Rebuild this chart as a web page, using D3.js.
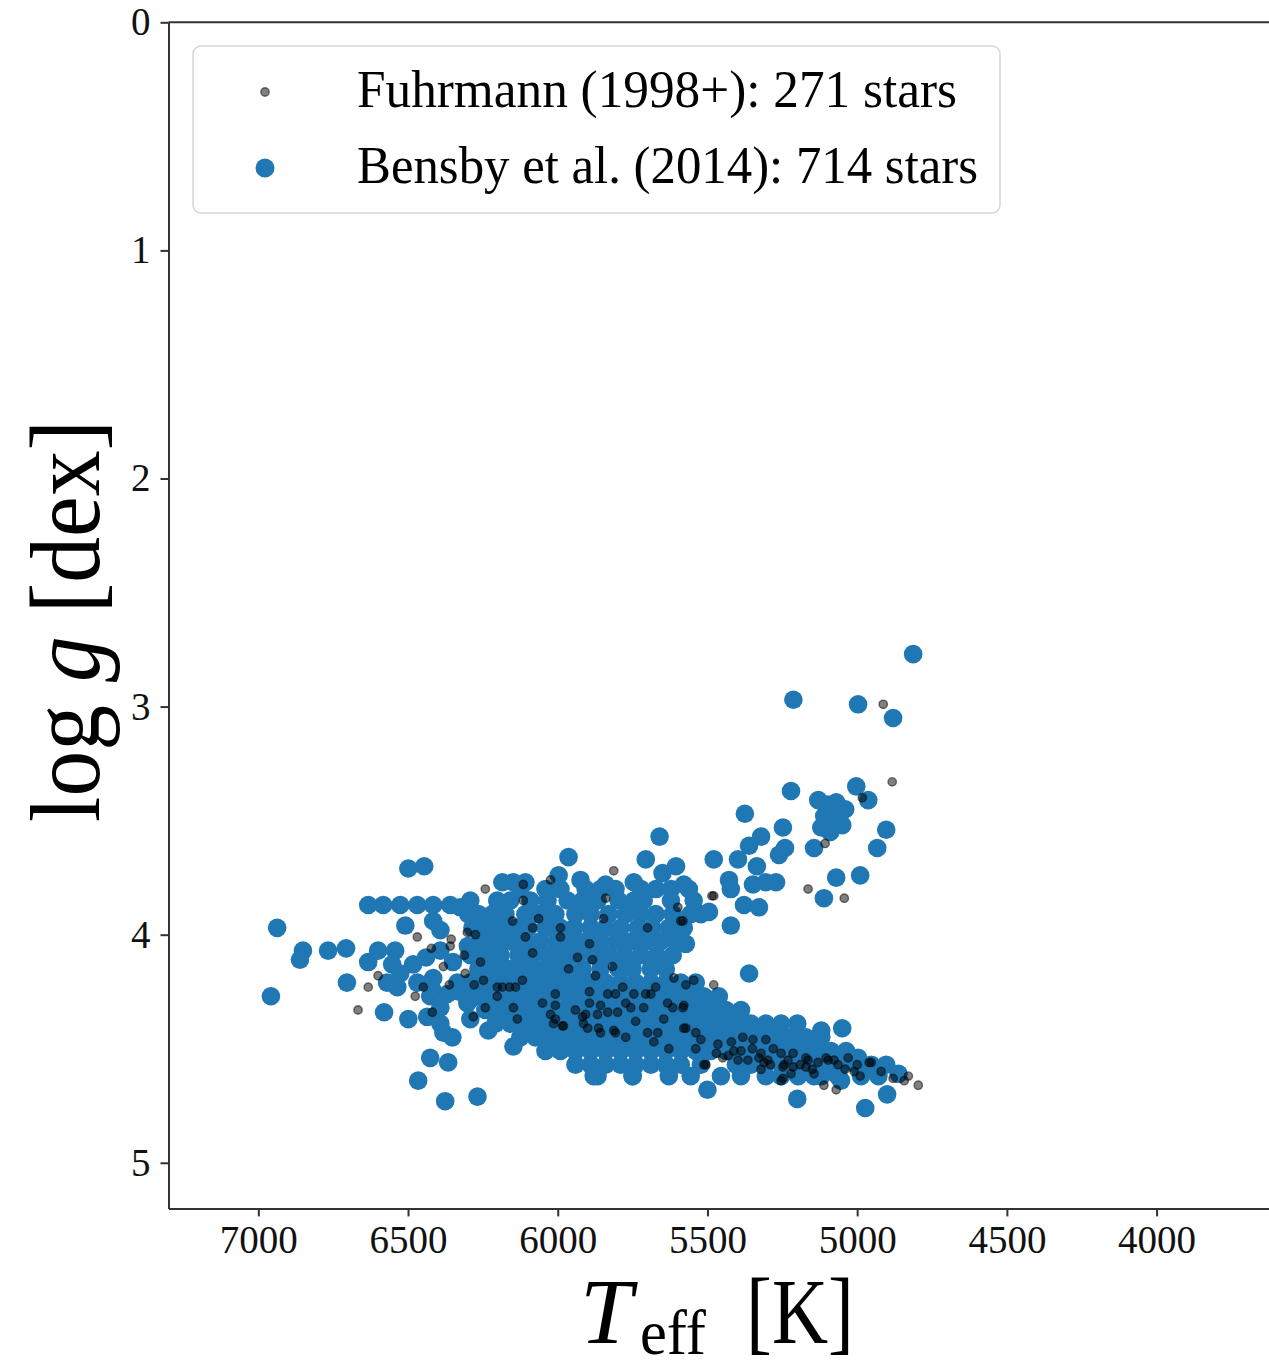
<!DOCTYPE html>
<html>
<head>
<meta charset="utf-8">
<script src="https://cdn.jsdelivr.net/npm/d3@7"></script>
<style>
    body { margin: 0; background: #fff; overflow: hidden; }
    #main-container { width: 1269px; height: 1367px; }
</style>
</head>
<body>
<div id="main-container"></div>
<script>
// Values: [Teff (K), log g (dex)]
const FUHRMANN_STARS = [
    [4913,2.99],[4883,3.33],[4983,3.40],[5107,3.60],[5164,3.80],[5043,3.84],[5479,3.83],[5582,3.94],
    [6667,4.33],[6633,4.23],[6600,4.18],[6469,4.01],[6422,4.06],[6359,4.05],[6356,4.02],[6302,3.99],
    [6275,4.00],[6312,4.09],[6476,4.27],[6449,4.23],[6419,4.34],[6382,4.14],[6362,4.22],[6309,4.17],
    [6279,4.22],[6282,4.36],[6242,4.32],[6242,3.80],[6258,4.12],[6202,4.23],[6202,4.27],[6161,4.23],
    [6141,4.23],[6118,4.20],[6148,4.32],[6135,4.37],[6248,4.20],
    [6115,3.85],[6024,3.76],[6115,3.78],[5813,3.72],[5840,3.84],[5847,3.93],[5700,3.97],[5599,3.88],
    [5589,3.94],[5485,3.83],[6151,3.94],[6084,3.97],[6064,3.93],[6108,4.01],[6084,4.08],[5991,3.97],
    [5991,4.01],[5894,4.04],[5884,4.11],[5874,4.18],[5817,4.14],[5964,4.15],[5612,4.19],[5934,4.10],
    [6185,4.23],[6051,4.30],[6008,4.26],[6008,4.31],[6024,4.35],[6008,4.37],[5981,4.40],[5941,4.33],
    [5894,4.25],[5894,4.30],[5917,4.36],[5900,4.41],[5857,4.31],[5857,4.43],[5833,4.26],[5807,4.26],
    [5800,4.34],[5813,4.42],[5783,4.23],[5773,4.30],[5746,4.26],[5740,4.38],[5756,4.32],[5773,4.45],
    [5706,4.26],[5713,4.32],[5689,4.26],[5700,4.43],[5666,4.43],[5673,4.23],[5633,4.30],[5616,4.32],
    [5646,4.37],[5629,4.50],[5679,4.47],[5582,4.32],[5572,4.41],[5539,4.43],[5522,4.46],[5465,4.48],
    [5512,4.57],[5382,4.45],[5348,4.46],[5305,4.46],[5388,4.51],[5398,4.55],[5365,4.55],[5321,4.52],
    [5298,4.55],[5254,4.52],[5244,4.57],[5214,4.52],[5214,4.58],[5164,4.55],[5131,4.56],[5097,4.55],
    [5064,4.57],[5030,4.54],[5010,4.60],[4960,4.56],[5111,4.66],[5248,4.63],[5070,4.68],[5572,4.22],
    [5546,4.20],[5479,4.22],[5579,4.31],[5579,4.41],[5539,4.50],[5412,4.51],[5449,4.54],[5505,4.57],
    [5328,4.54],[5311,4.56],[5321,4.59],[5231,4.55],[5248,4.58],[5254,4.64],[5221,4.61],[5171,4.54],
    [5171,4.58],[5104,4.54],[5144,4.61],[5077,4.55],[4953,4.56],[4829,4.62],[4796,4.66],[4843,4.64],
    [6014,4.39],[5984,4.40],[5907,4.35],[5914,4.39],[5867,4.35],[5864,4.41],[5833,4.34],[5807,4.43],
    [5470,4.52],[5430,4.53],[5290,4.57],[5190,4.57],[5150,4.59],[5040,4.59],[4990,4.62],[4920,4.60],
    [5350,4.50],[5280,4.50],[5420,4.47],[5000,4.57],[4880,4.63]
];

// Giants, subgiants and isolated Bensby stars
const BENSBY_STARS = [
    [4813,2.77],[5213,2.97],[4997,2.99],[4880,3.05],[5221,3.37],[5003,3.35],[4963,3.41],
    [5130,3.41],[5100,3.43],[5070,3.42],[5040,3.45],[5110,3.48],[5080,3.50],[5050,3.52],[5090,3.55],
    [5120,3.53],[5060,3.47],[5375,3.47],[5248,3.53],[5321,3.57],[5361,3.61],[5241,3.62],[5261,3.65],
    [5144,3.62],[4903,3.54],[4933,3.62],[5479,3.67],[5398,3.67],[5335,3.70],[5428,3.76],[5422,3.80],
    [5348,3.78],[5305,3.77],[5271,3.77],[5070,3.75],[4990,3.74],[5111,3.84],[5378,3.87],[5328,3.88],
    [5522,3.91],[5495,3.90],[5422,3.96],[5572,4.04],[5361,4.17],
    [5660,3.57],[5706,3.67],[5605,3.70],[5964,3.66],[5997,3.74],[5924,3.76],[6148,3.77],[6108,3.77],
    [6185,3.77],[5840,3.78],[5746,3.77],[5650,3.73],[5579,3.78],[6202,3.89],[6285,3.91],
    [6937,3.97],[6851,4.07],[6861,4.11],[6767,4.07],[6707,4.06],[6958,4.27],[6704,4.21],
    [6633,3.87],[6583,3.87],[6526,3.87],[6469,3.87],[6416,3.87],[6359,3.87],[6325,3.88],[6299,3.91],
    [6499,3.71],[6446,3.70],[6509,3.96],[6416,3.94],[6392,3.98],
    [6633,4.12],[6600,4.07],[6543,4.07],[6553,4.13],[6526,4.17],[6570,4.21],[6483,4.13],[6469,4.21],
    [6536,4.23],[6580,4.34],[6499,4.37],[6436,4.36],[6392,4.32],[6426,4.27],[6369,4.26],[6392,4.39],
    [6382,4.43],[6352,4.45],[6292,4.37],[6426,4.54],[6366,4.56],[6466,4.64],[6376,4.73],[6268,4.71],
    [6416,4.19],[6335,4.21],[6282,4.21],[6392,4.07],[6302,4.30],[6440,4.10],[6350,4.12],[6300,4.05],
    [6260,4.08],[6420,4.24],[6330,4.25],[6290,4.28],[6232,4.42],[6148,4.49],
    [5880,4.62],[5750,4.62],[5500,4.68],[5200,4.72],[4973,4.76],[4900,4.70],[4862,4.61],[5054,4.64],
    [5120,4.62],[5050,4.41],[5120,4.42],[4997,4.54]
];

// Dense turnoff / dwarf region, row by row: [log g, [Teff, ...]]
const BENSBY_ROWS = [
    [3.80, [6125,6041,5991,5907,5857,5807,5722,5672,5622,5562]],
    [3.85, [6292,6202,6158,6091,6034,5967,5917,5867,5797,5746,5713,5622,5546]],
    [3.91, [6265,6218,6175,6108,6058,6008,5941,5890,5830,5773,5723,5673,5616,5556]],
    [3.97, [6285,6238,6191,6141,6098,6041,5991,5944,5890,5840,5790,5733,5683,5629,5579]],
    [4.03, [6258,6208,6158,6108,6058,6004,5957,5907,5857,5803,5756,5706,5656,5606]],
    [4.09, [6292,6242,6191,6131,6084,6031,5984,5934,5880,5830,5777,5723,5669,5616]],
    [4.15, [6265,6218,6168,6118,6068,6018,5971,5917,5857,5797,5750,5689,5639]],
    [4.21, [6292,6242,6191,6141,6091,6041,5991,5941,5890,5840,5790,5740,5689,5639,5589,5539]],
    [4.27, [6265,6215,6165,6118,6068,6018,5964,5914,5864,5813,5763,5713,5663,5612,5562,5512,5462]],
    [4.33, [6242,6191,6141,6091,6041,5991,5941,5890,5840,5790,5740,5689,5639,5589,5539,5489,5438,5388]],
    [4.39, [6208,6158,6108,6058,6008,5957,5907,5857,5807,5756,5706,5656,5606,5556,5505,5455,5405,5355,5305,5254,5200]],
    [4.45, [6125,6074,6024,5974,5924,5874,5823,5773,5723,5673,5622,5572,5522,5472,5422,5372,5321,5271,5221,5171,5120]],
    [4.51, [6041,5991,5941,5890,5840,5790,5740,5689,5639,5589,5539,5489,5438,5388,5338,5288,5238,5187,5137,5087,5037]],
    [4.57, [5941,5890,5840,5790,5740,5689,5639,5589,5522,5405,5355,5305,5254,5204,5154,5104,5053,5003,4953,4903]],
    [4.62, [5867,5750,5629,5556,5455,5388,5305,5254,5197,5144,5064,4987,4929]]
];

const X_TICKS = [7000, 6500, 6000, 5500, 5000, 4500, 4000];
const Y_TICKS = [0, 1, 2, 3, 4, 5];
const LEGEND_LABELS = ['Fuhrmann (1998+): 271 stars', 'Bensby et al. (2014): 714 stars'];

const WIDTH = 1269;
const HEIGHT = 1367;
const FONT = '"Liberation Serif", "Times New Roman", serif';
const BLUE = '#1f77b4';
const AXIS_COLOR = '#333';

const BENSBY = BENSBY_STARS.concat(BENSBY_ROWS.flatMap(([g, temps]) => temps.map(t => [t, g])));

const SVG = d3.select('#main-container').append('svg')
    .attr('width', WIDTH)
    .attr('height', HEIGHT)
    .style('display', 'block');

// Scales (Teff axis reversed, log g grows downward)
const X_SCALE = d3.scaleLinear().domain([7300, 3500]).range([168.5, 1306.3]);
const Y_SCALE = d3.scaleLinear().domain([0, 5.2]).range([22.3, 1208.4]);

// Points: Bensby underneath, Fuhrmann on top
SVG.append('g').selectAll('circle')
    .data(BENSBY).enter()
    .append('circle')
    .attr('cx', d => X_SCALE(d[0]))
    .attr('cy', d => Y_SCALE(d[1]))
    .attr('r', 9.3)
    .attr('fill', BLUE);

SVG.append('g').selectAll('circle')
    .data(FUHRMANN_STARS).enter()
    .append('circle')
    .attr('cx', d => X_SCALE(d[0]))
    .attr('cy', d => Y_SCALE(d[1]))
    .attr('r', 4.2)
    .attr('fill', 'rgba(0,0,0,0.5)')
    .attr('stroke', 'rgba(0,0,0,0.5)')
    .attr('stroke-width', 1.4);

// Axes
const xAxis = SVG.append('g')
    .attr('transform', `translate(0, ${Y_SCALE.range()[1]})`)
    .call(d3.axisBottom(X_SCALE).tickValues(X_TICKS).tickSize(8).tickSizeOuter(0).tickPadding(9).tickFormat(d => d));
const yAxis = SVG.append('g')
    .attr('transform', `translate(${X_SCALE.range()[0]}, 0)`)
    .call(d3.axisLeft(Y_SCALE).tickValues(Y_TICKS).tickSize(8).tickSizeOuter(0).tickPadding(10).tickFormat(d => d));

[xAxis, yAxis].forEach(ax => {
    ax.attr('font-family', FONT).attr('font-size', 39);
    ax.selectAll('path, line').attr('stroke', AXIS_COLOR).attr('stroke-width', 2);
    ax.selectAll('text').attr('fill', '#111');
});

// top spine
SVG.append('line')
    .attr('x1', X_SCALE.range()[0]).attr('x2', X_SCALE.range()[1])
    .attr('y1', Y_SCALE.range()[0]).attr('y2', Y_SCALE.range()[0])
    .attr('stroke', AXIS_COLOR).attr('stroke-width', 2);

// Axis titles
const yTitle = SVG.append('text')
    .attr('transform', 'translate(99, 621) rotate(-90)')
    .attr('text-anchor', 'middle')
    .attr('font-family', FONT)
    .attr('font-size', 100)
    .attr('textLength', 402)
    .attr('lengthAdjust', 'spacingAndGlyphs')
    .attr('fill', '#000');
yTitle.append('tspan').text('log ');
yTitle.append('tspan').attr('font-style', 'italic').text('g');
yTitle.append('tspan').text(' [dex]');

SVG.append('text')
    .attr('x', 580).attr('y', 1343)
    .attr('font-family', FONT).attr('font-size', 94).attr('font-style', 'italic')
    .text('T');
SVG.append('text')
    .attr('x', 640).attr('y', 1354)
    .attr('font-family', FONT).attr('font-size', 64)
    .attr('textLength', 66)
    .attr('lengthAdjust', 'spacingAndGlyphs')
    .text('eff');
SVG.append('text')
    .attr('x', 746).attr('y', 1343)
    .attr('font-family', FONT).attr('font-size', 94)
    .attr('textLength', 108)
    .attr('lengthAdjust', 'spacingAndGlyphs')
    .text('[K]');

// Legend
const LEGEND = SVG.append('g').attr('id', 'legend');
LEGEND.append('rect')
    .attr('x', 193).attr('y', 46)
    .attr('width', 807).attr('height', 167)
    .attr('rx', 8)
    .attr('fill', 'rgba(255,255,255,0.8)')
    .attr('stroke', '#d6d6d6')
    .attr('stroke-width', 1.5);

LEGEND.append('circle')
    .attr('cx', 265).attr('cy', 92).attr('r', 4.2)
    .attr('fill', 'rgba(0,0,0,0.5)')
    .attr('stroke', 'rgba(0,0,0,0.5)')
    .attr('stroke-width', 1.4);
LEGEND.append('circle')
    .attr('cx', 265).attr('cy', 168).attr('r', 9.5)
    .attr('fill', BLUE);

const LEGEND_WIDTHS = [600, 621];
LEGEND.selectAll('text.label')
    .data(LEGEND_LABELS).enter()
    .append('text')
    .attr('class', 'label')
    .attr('x', 357)
    .attr('y', (d, i) => 107 + i * 76)
    .attr('font-family', FONT)
    .attr('font-size', 52)
    .attr('textLength', (d, i) => LEGEND_WIDTHS[i])
    .attr('lengthAdjust', 'spacingAndGlyphs')
    .text(d => d);
</script>
</body>
</html>
